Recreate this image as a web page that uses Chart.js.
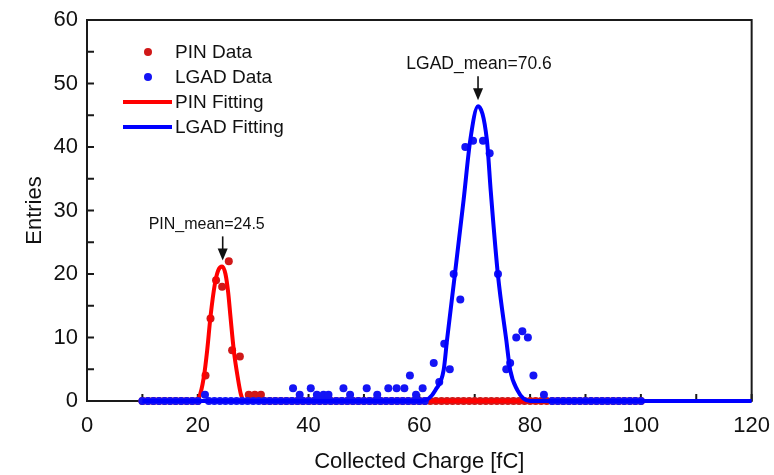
<!DOCTYPE html>
<html>
<head>
<meta charset="utf-8">
<script src="https://cdn.jsdelivr.net/npm/chart.js@4.4.1/dist/chart.umd.min.js"></script>
<style>
  html, body { margin: 0; padding: 0; background: #fff; }
</style>
</head>
<body>
<canvas id="chart" width="774" height="475"></canvas>
<script>
// empty bins of each histogram
const pinZeroBins = [10, 11, 12, 13, 14, 15, 16, 17, 18, 19, 20,
  32, 33, 34, 35, 36, 37, 38, 39, 40, 41, 42, 43, 44, 45, 46, 47, 48, 49,
  50, 51, 52, 53, 54, 55, 56, 57, 58, 59, 60, 61, 62, 63, 64, 65, 66, 67, 68, 69,
  70, 71, 72, 73, 74, 75, 76, 77, 78, 79, 80, 81, 82, 83, 84, 85, 86, 87, 88, 89,
  90, 91, 92, 93, 94, 95, 96, 97, 98, 99, 100];
const lgadZeroBins = [10, 11, 12, 13, 14, 15, 16, 17, 18, 19, 20, 22, 23, 24, 25, 26, 27, 28, 29,
  30, 31, 32, 33, 34, 35, 36, 37, 38, 39, 40, 41, 42, 43, 44, 45, 46, 47, 48, 49,
  50, 51, 52, 53, 54, 55, 56, 57, 58, 59, 60, 61,
  84, 85, 86, 87, 88, 89, 90, 91, 92, 93, 94, 95, 96, 97, 98, 99, 100];

const pinX = [21.4, 22.3, 23.3, 24.4, 25.6, 26.2, 27.6, 29.2, 30.3, 31.4];
const pinY = [4, 13, 19, 18, 22, 8, 7, 1, 1, 1];

const lgadX = [21.3, 37.2, 38.4, 40.4, 41.5, 42.7, 43.6, 46.3, 47.5, 50.5, 52.4, 54.4, 55.9,
  57.3, 58.3, 59.4, 60.6, 62.6, 63.6, 64.5, 65.5, 66.2, 67.4, 68.3, 69.7, 71.5, 72.7,
  74.2, 75.7, 76.4, 77.5, 78.6, 79.6, 80.6, 82.5];
const lgadY = [1, 2, 1, 2, 1, 1, 1, 2, 1, 2, 1, 2, 2,
  2, 4, 1, 2, 6, 3, 9, 5, 20, 16, 40, 41, 41, 39,
  20, 5, 6, 10, 11, 10, 4, 1];

// fitted curves
const pinFitX = [10, 19.4, 20.2, 21.1, 21.7, 22.3, 23.1, 23.7, 24.4, 25.0, 25.5, 25.9, 26.5, 27.2, 27.8, 28.4, 100];
const pinFitY = [0, 0, 0.5, 3.8, 8.0, 13.3, 18.5, 20.6, 21.2, 20.0, 17.0, 13.3, 8.0, 3.8, 1.0, 0, 0];

const lgadFitX = [10, 60.4, 61.7, 62.9, 64.4, 65.0, 66.4, 68.0, 69.2, 70.6, 72.2, 72.9, 74.2, 75.7, 76.4, 77.7, 78.8, 80.0, 120];
const lgadFitY = [0, 0, 0.4, 1.7, 4.9, 9.6, 19.8, 31.7, 41.1, 46.4, 41.1, 33.0, 19.8, 9.6, 4.9, 1.7, 0.4, 0, 0];

const meanLabels = ["PIN_mean=24.5", "LGAD_mean=70.6"];
const meanX = [24.5, 70.6];
const meanPeakY = [21.2, 46.4];

const xTickMax = 120;
const yTickMax = 60;

const FONT = '"Liberation Sans", Arial, Helvetica, sans-serif';

const toPoints = (xs, ys) => xs.map((x, i) => ({ x: x, y: ys[i] }));
const zeroPoints = (xs) => xs.map((x) => ({ x: x, y: 0 }));

// frame + inward ticks, drawn under the data like the original
const framePlugin = {
  id: "frame",
  beforeDatasetsDraw(chart) {
    const { ctx, chartArea: a, scales } = chart;
    ctx.save();
    ctx.strokeStyle = "#1a1a1a";
    ctx.lineWidth = 2;
    ctx.strokeRect(a.left, a.top, a.right - a.left, a.bottom - a.top);
    ctx.beginPath();
    for (let v = 0; v <= yTickMax; v += 5) {
      const y = scales.y.getPixelForValue(v);
      ctx.moveTo(a.left, y);
      ctx.lineTo(a.left + 7, y);
    }
    for (let v = 0; v <= xTickMax; v += 10) {
      const x = scales.x.getPixelForValue(v);
      ctx.moveTo(x, a.bottom);
      ctx.lineTo(x, a.bottom - 7);
    }
    ctx.stroke();
    ctx.restore();
  },
};

const notePlugin = {
  id: "notes",
  afterDatasetsDraw(chart) {
    const { ctx, scales } = chart;
    const shift = [-16, 1];
    const size = [16, 17.5];
    ctx.save();
    ctx.fillStyle = "#111";
    ctx.strokeStyle = "#111";
    ctx.textAlign = "center";
    ctx.textBaseline = "middle";
    for (let i = 0; i < meanLabels.length; i++) {
      const x = scales.x.getPixelForValue(meanX[i]);
      const tip = scales.y.getPixelForValue(meanPeakY[i]) - 6;
      ctx.lineWidth = 1.6;
      ctx.beginPath();
      ctx.moveTo(x, tip - 24);
      ctx.lineTo(x, tip - 8);
      ctx.stroke();
      ctx.beginPath();
      ctx.moveTo(x - 5, tip - 12);
      ctx.lineTo(x + 5, tip - 12);
      ctx.lineTo(x, tip);
      ctx.closePath();
      ctx.fill();
      ctx.font = size[i] + "px " + FONT;
      ctx.fillText(meanLabels[i], x + shift[i], tip - 36);
    }
    ctx.restore();
  },
};

const legendPlugin = {
  id: "boxLegend",
  afterDraw(chart) {
    const { ctx } = chart;
    const rows = [52, 77, 102, 127];
    ctx.save();
    ctx.font = "19px " + FONT;
    ctx.textBaseline = "middle";
    ctx.textAlign = "left";
    chart.data.datasets.forEach((ds, i) => {
      const y = rows[i];
      if (ds.showLine) {
        ctx.strokeStyle = ds.borderColor;
        ctx.lineWidth = 4;
        ctx.beginPath();
        ctx.moveTo(123, y);
        ctx.lineTo(172, y);
        ctx.stroke();
      } else {
        ctx.fillStyle = ds.backgroundColor;
        ctx.beginPath();
        ctx.arc(148, y, 4, 0, Math.PI * 2);
        ctx.fill();
      }
      ctx.fillStyle = "#111";
      ctx.fillText(ds.label, 175, y + 1);
    });
    ctx.restore();
  },
};

new Chart(document.getElementById("chart"), {
  type: "scatter",
  data: {
    datasets: [
      {
        label: "PIN Data",
        data: zeroPoints(pinZeroBins).concat(toPoints(pinX, pinY)),
        backgroundColor: "#d01818",
        borderColor: "#d01818",
        pointRadius: 4,
        pointBorderWidth: 0,
        showLine: false,
        clip: false,
        order: 3,
      },
      {
        label: "LGAD Data",
        data: zeroPoints(lgadZeroBins).concat(toPoints(lgadX, lgadY)),
        backgroundColor: "#1414f5",
        borderColor: "#1414f5",
        pointRadius: 4,
        pointBorderWidth: 0,
        showLine: false,
        clip: false,
        order: 1,
      },
      {
        label: "PIN Fitting",
        data: toPoints(pinFitX, pinFitY),
        borderColor: "#ff0000",
        borderWidth: 4,
        pointRadius: 0,
        showLine: true,
        cubicInterpolationMode: "monotone",
        clip: false,
        order: 2,
      },
      {
        label: "LGAD Fitting",
        data: toPoints(lgadFitX, lgadFitY),
        borderColor: "#0000ff",
        borderWidth: 4,
        pointRadius: 0,
        showLine: true,
        cubicInterpolationMode: "monotone",
        clip: false,
        order: 0,
      },
    ],
  },
  options: {
    responsive: false,
    animation: false,
    layout: { padding: { top: 20, right: 15, left: 0, bottom: 0 } },
    plugins: {
      legend: { display: false },
      tooltip: { enabled: false },
    },
    scales: {
      x: {
        type: "linear",
        min: 0,
        max: xTickMax,
        grid: { display: false },
        border: { display: false },
        ticks: {
          stepSize: 20,
          color: "#111",
          font: { family: FONT, size: 22 },
          padding: 4,
          maxRotation: 0,
        },
        title: {
          display: true,
          text: "Collected Charge [fC]",
          color: "#111",
          font: { family: FONT, size: 22 },
          padding: { top: 0, bottom: 0 },
        },
        afterFit: (s) => { s.height = 74; },
      },
      y: {
        type: "linear",
        min: 0,
        max: yTickMax,
        grid: { display: false },
        border: { display: false },
        ticks: {
          stepSize: 10,
          color: "#111",
          font: { family: FONT, size: 22 },
          padding: 1,
        },
        title: {
          display: true,
          text: "Entries",
          color: "#111",
          font: { family: FONT, size: 22 },
          padding: { top: 22, bottom: 0 },
        },
        afterFit: (s) => { s.width = 87; },
      },
    },
  },
  plugins: [framePlugin, notePlugin, legendPlugin],
});
</script>
</body>
</html>
